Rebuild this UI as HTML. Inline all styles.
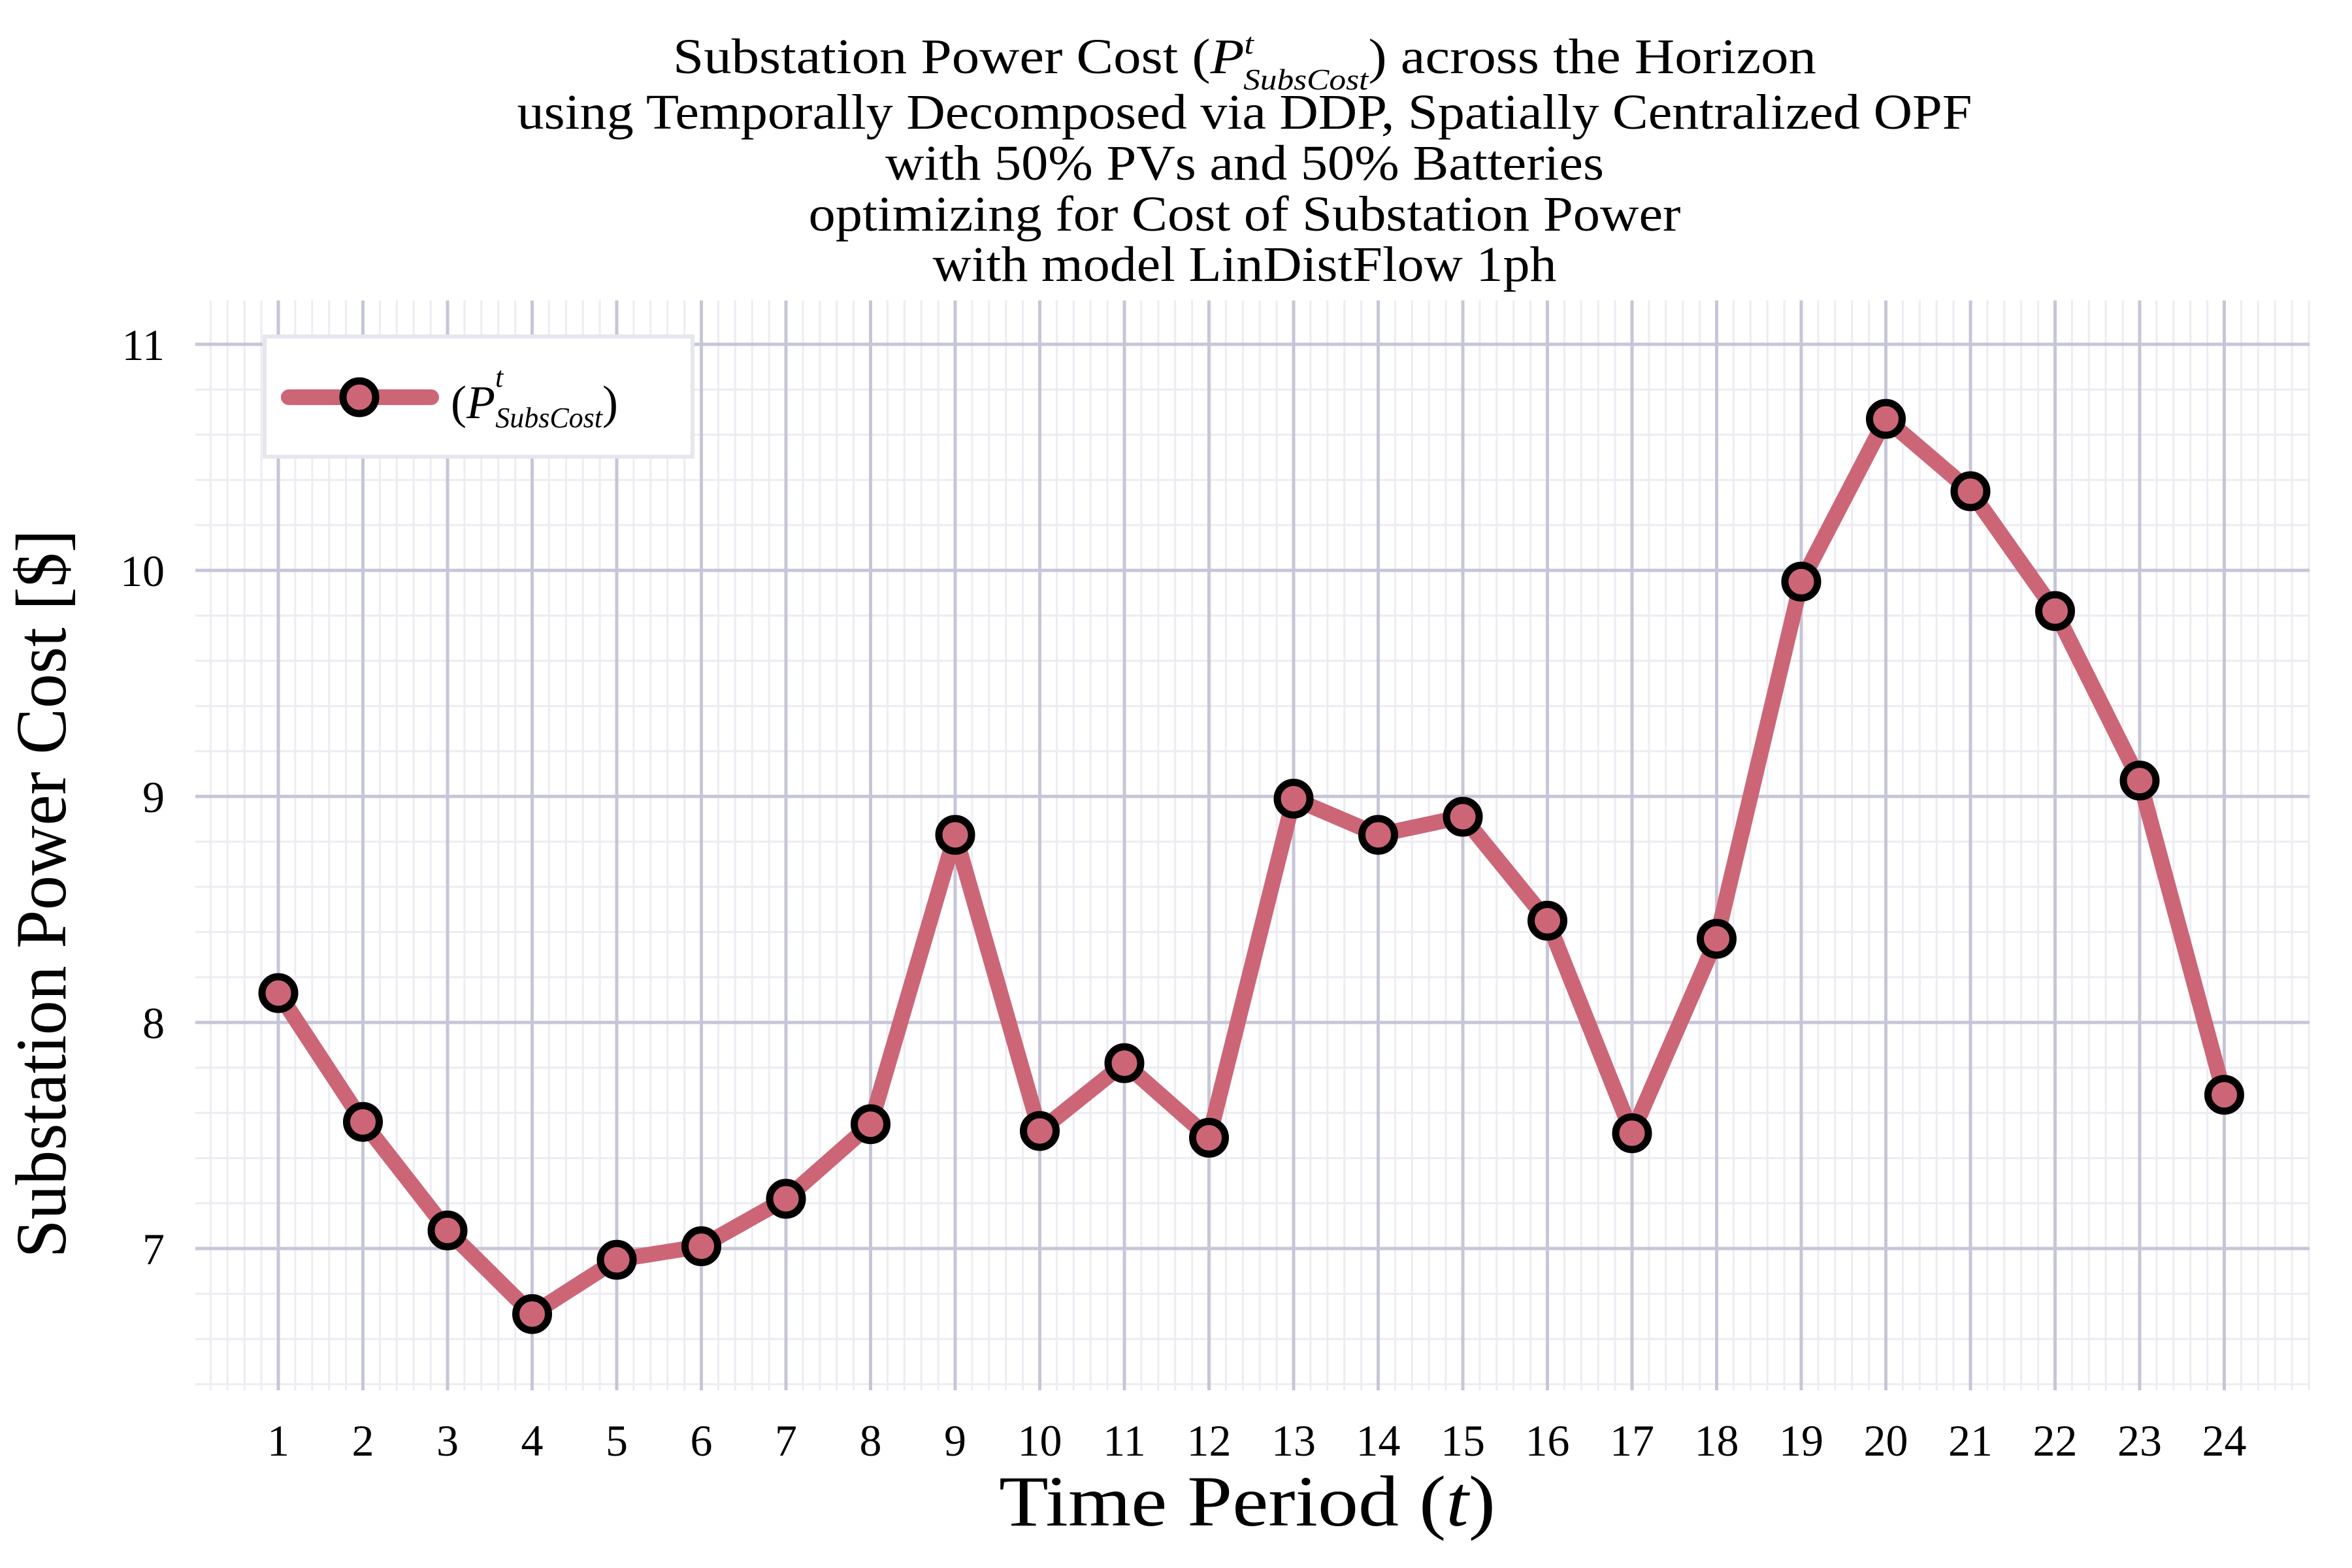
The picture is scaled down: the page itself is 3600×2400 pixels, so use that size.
<!DOCTYPE html>
<html><head><meta charset="utf-8"><style>
html,body{margin:0;padding:0;background:#fff;}
svg{display:block;font-family:"Liberation Serif",serif;}
</style></head><body>
<svg id="chart" width="3600" height="2400" viewBox="0 0 3600 2400" xmlns="http://www.w3.org/2000/svg">
<g font-size="76" text-anchor="middle" fill="#000">
<text x="1905" y="112" textLength="1750" lengthAdjust="spacingAndGlyphs">Substation Power Cost (<tspan font-style="italic">P</tspan><tspan font-size="46" font-style="italic" dy="-30">t</tspan><tspan font-size="46" font-style="italic" dx="-14" dy="55">SubsCost</tspan><tspan dy="-25">) across the Horizon</tspan></text>
<text x="1905" y="197" textLength="2227" lengthAdjust="spacingAndGlyphs">using Temporally Decomposed via DDP, Spatially Centralized OPF</text>
<text x="1905" y="275" textLength="1100" lengthAdjust="spacingAndGlyphs">with 50% PVs and 50% Batteries</text>
<text x="1905" y="353" textLength="1335" lengthAdjust="spacingAndGlyphs">optimizing for Cost of Substation Power</text>
<text x="1905" y="430" textLength="955" lengthAdjust="spacingAndGlyphs">with model LinDistFlow 1ph</text>
</g>
<g id="grid"></g>
<g id="ticks" font-size="68" fill="#000"></g>
<g id="series"></g>
<g>
<rect x="405" y="515" width="655" height="184" fill="#fff" stroke="#e6e6ee" stroke-width="6"/>
<line x1="442" y1="608" x2="660" y2="608" stroke="#cc6677" stroke-width="24" stroke-linecap="round"/>
<circle cx="550" cy="608" r="25" fill="#cc6677" stroke="#000" stroke-width="11"/>
<text x="690" y="640" font-size="72">(<tspan font-style="italic">P</tspan><tspan font-size="44" font-style="italic" dy="-48">t</tspan><tspan font-size="44" font-style="italic" dx="-12" dy="62">SubsCost</tspan><tspan dy="-14">)</tspan></text>
</g>
<text x="1909" y="2335" font-size="110" text-anchor="middle" textLength="760" lengthAdjust="spacingAndGlyphs">Time Period (<tspan font-style="italic">t</tspan>)</text>
<text transform="translate(100,1368) rotate(-90)" font-size="110" text-anchor="middle" textLength="1115" lengthAdjust="spacingAndGlyphs">Substation Power Cost [$]</text>
</svg>
<script>
const periods=[1,2,3,4,5,6,7,8,9,10,11,12,13,14,15,16,17,18,19,20,21,22,23,24];
const costs=[8.13,7.56,7.08,6.71,6.95,7.01,7.22,7.55,8.83,7.52,7.82,7.49,8.99,8.83,8.91,8.45,7.51,8.37,9.95,10.67,10.35,9.82,9.07,7.68];
const yTicks=[7,8,9,10,11];
const NS="http://www.w3.org/2000/svg";
const PL=299,PR=3535,PT=460,PB=2128;
function xs(t){return 426+(t-1)*129.5;}
function ys(v){return 873-(v-10)*346;}
function mk(tag,attrs,parent){const e=document.createElementNS(NS,tag);for(const k in attrs)e.setAttribute(k,attrs[k]);parent.appendChild(e);return e;}
const grid=document.getElementById('grid'),ticks=document.getElementById('ticks'),series=document.getElementById('series');
for(let t=0;t<=26;t+=0.2){const x=xs(t);if(x<PL||x>PR)continue;
 const l=mk('line',{x1:x,x2:x,y1:PT,y2:PB,stroke:'#ececf2','stroke-width':3},grid);
 
 }
for(let v=6;v<=11.6;v+=0.2){const y=ys(v);if(y<PT||y>PB)continue;
 const l=mk('line',{x1:PL,x2:PR,y1:y,y2:y,stroke:'#ececf2','stroke-width':3},grid);
 
 }
periods.forEach(t=>{const x=xs(t);
 const l=mk('line',{x1:x,x2:x,y1:PT,y2:PB,stroke:'#c6c6d8','stroke-width':5},grid);
 
 
 const tx=mk('text',{x:x,y:2228,'text-anchor':'middle'},ticks);tx.textContent=t;
 
 });
yTicks.forEach(v=>{const y=ys(v);
 const l=mk('line',{x1:PL,x2:PR,y1:y,y2:y,stroke:'#c6c6d8','stroke-width':5},grid);
 
 
 const tx=mk('text',{x:252,y:y+24,'text-anchor':'end'},ticks);tx.textContent=v;
 
 });
const pts=periods.map((t,i)=>xs(t)+','+ys(costs[i])).join(' ');
const pl=mk('polyline',{points:pts,fill:'none',stroke:'#cc6677','stroke-width':24,'stroke-linejoin':'round','stroke-linecap':'round'},series);


periods.forEach((t,i)=>{const c=mk('circle',{cx:xs(t),cy:ys(costs[i]),r:25,fill:'#cc6677',stroke:'#000','stroke-width':11},series);
 
 });
</script>
</body></html>
